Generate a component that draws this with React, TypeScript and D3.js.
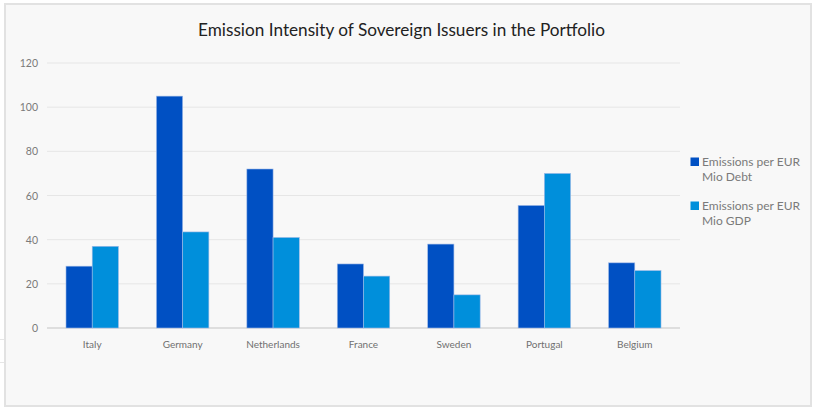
import React from "react";
import * as d3 from "d3";

const categories = ["Italy", "Germany", "Netherlands", "France", "Sweden", "Portugal", "Belgium"];
const debtValues = [28, 105, 72, 29, 38, 55.5, 29.5];
const gdpValues = [37, 43.5, 41, 23.5, 15, 70, 26];
const seriesNames = ["Emissions per EUR|Mio Debt", "Emissions per EUR|Mio GDP"];
const yTicks = [0, 20, 40, 60, 80, 100, 120];

const W = 816;
const H = 413;
const colors = ["#0050C3", "#008FDB"];
const font = "Lato, 'Open Sans', sans-serif";

export default function App() {
  const x = d3.scaleBand<string>().domain(categories).range([47, 680]).paddingInner(0.42).paddingOuter(0.21);
  const y = d3.scaleLinear().domain([0, 120]).range([328, 63]);
  const sub = d3.scaleBand<number>().domain([0, 1]).range([0, x.bandwidth()]);
  const series = [debtValues, gdpValues];
  return (
    <svg width={W} height={H} style={{ position: "absolute", left: 0, top: 0, background: "#fff" }}>
      <line x1={0} x2={5} y1={339.5} y2={339.5} stroke="#e6e6e6" />
      <line x1={0} x2={5} y1={362.5} y2={362.5} stroke="#e6e6e6" />
      <rect x={5} y={4} width={806} height={402} fill="#f8f8f8" stroke="#e2e2e2" strokeWidth={2} />
      <text x={401.5} y={36} textAnchor="middle" fontFamily={font} fontSize={17.2} fill="#222">
        Emission Intensity of Sovereign Issuers in the Portfolio
      </text>
      {yTicks.map((t) => (
        <g key={t}>
          <line x1={47} x2={680} y1={y(t)} y2={y(t)} stroke={t === 0 ? "#dedede" : "#e6e6e6"} strokeWidth={t === 0 ? 2 : 1} />
          <text x={38} y={y(t) + 4} textAnchor="end" fontFamily={font} fontSize={10.5} fill="#7a7a7a">
            {t}
          </text>
        </g>
      ))}
      {categories.map((c, i) => (
        <g key={c}>
          {series.map((s, k) => (
            <rect
              key={k}
              x={(x(c) as number) + (sub(k) as number)}
              y={y(s[i])}
              width={sub.bandwidth()}
              height={y(0) - y(s[i])}
              fill={colors[k]}
              stroke="#9fb9e6"
              strokeWidth={0.6}
            />
          ))}
          <text x={(x(c) as number) + x.bandwidth() / 2} y={348} textAnchor="middle" fontFamily={font} fontSize={10} fill="#707070">
            {c}
          </text>
        </g>
      ))}
      {seriesNames.map((n, k) => {
        const [a, b] = n.split("|");
        const ly = 166 + k * 44;
        return (
          <g key={n}>
            <rect x={690.5} y={ly - 8.5} width={8.5} height={8.5} fill={colors[k]} />
            <text x={702} y={ly} fontFamily={font} fontSize={12} fill="#7a7a7a">
              {a}
            </text>
            <text x={702} y={ly + 15} fontFamily={font} fontSize={12} fill="#7a7a7a">
              {b}
            </text>
          </g>
        );
      })}
    </svg>
  );
}
